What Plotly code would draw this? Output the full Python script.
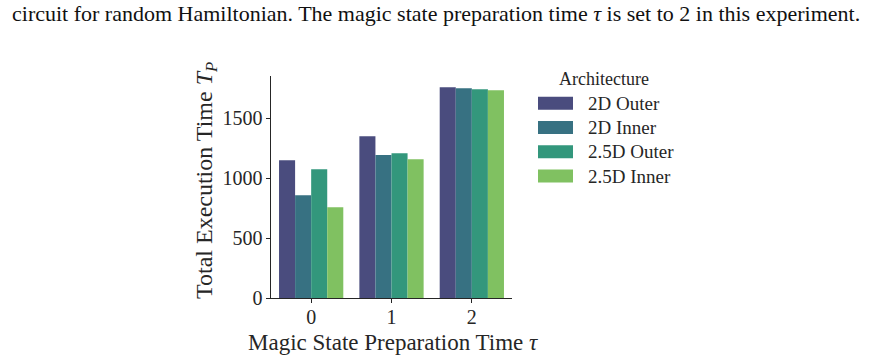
import plotly.graph_objects as go

# ---- data ----
tau_values = [0, 1, 2]
architectures = ["2D Outer", "2D Inner", "2.5D Outer", "2.5D Inner"]
t_2d_outer = [1150, 1350, 1758]
t_2d_inner = [858, 1192, 1750]
t_25d_outer = [1075, 1208, 1742]
t_25d_inner = [758, 1158, 1733]
series = [t_2d_outer, t_2d_inner, t_25d_outer, t_25d_inner]
colors = ["#4a4c7e", "#377182", "#33977c", "#80c161"]
y_ticks = [0, 500, 1000, 1500]

W, H = 872, 358
L, R, T, B = 271, 512, 76, 298  # plot area pixel edges
FONT = "Liberation Serif"
INK = "#262626"

fig = go.Figure()
for name, vals, col in zip(architectures, series, colors):
    fig.add_trace(go.Bar(x=tau_values, y=vals, name=name, marker_color=col,
                         marker_line_width=0, showlegend=False))

def px_x(p):
    return (p - L) / (R - L)

def px_y(p):
    return (B - p) / (B - T)

shapes = []
annotations = []
# legend (manual, wide patches like matplotlib)
annotations.append(dict(text="Architecture", x=px_x(604), y=px_y(79), xref="paper", yref="paper",
                        showarrow=False, xanchor="center", yanchor="middle",
                        font=dict(family=FONT, size=18, color=INK)))
row_y = [103.3, 127.5, 151.7, 176]
for name, col, ry in zip(architectures, colors, row_y):
    shapes.append(dict(type="rect", xref="paper", yref="paper",
                       x0=px_x(538), x1=px_x(573), y0=px_y(ry - 6.5), y1=px_y(ry + 6.5),
                       fillcolor=col, line_width=0))
    annotations.append(dict(text=name, x=px_x(586), y=px_y(ry), xref="paper", yref="paper",
                            showarrow=False, xanchor="left", yanchor="middle",
                            font=dict(family=FONT, size=19, color=INK)))
# caption text at top
annotations.append(dict(text="circuit for random Hamiltonian. The magic state preparation time <i>τ</i> is set to 2 in this experiment.",
                        x=px_x(436), y=px_y(13), xref="paper", yref="paper", showarrow=False,
                        xanchor="center", yanchor="middle",
                        font=dict(family=FONT, size=22, color="#111111")))
# y-axis title
annotations.append(dict(text="Total Execution Time <i>T</i><sub><i>P</i></sub>",
                        x=px_x(206), y=px_y(181), xref="paper", yref="paper", showarrow=False,
                        xanchor="center", yanchor="middle", textangle=-90,
                        font=dict(family=FONT, size=24, color=INK)))
# x-axis title
annotations.append(dict(text="Magic State Preparation Time <i>τ</i>",
                        x=px_x(393), y=px_y(342), xref="paper", yref="paper", showarrow=False,
                        xanchor="center", yanchor="middle", borderpad=0,
                        font=dict(family=FONT, size=23, color=INK)))

fig.update_layout(
    width=W, height=H, autosize=False,
    margin=dict(l=L, r=W - R, t=T, b=H - B, pad=0),
    plot_bgcolor="white", paper_bgcolor="white",
    barmode="group", bargap=0.2, bargroupgap=0,
    font=dict(family=FONT, color=INK),
    shapes=shapes, annotations=annotations,
)
fig.update_xaxes(range=[-0.5, 2.5], tickvals=tau_values, ticktext=[str(v) for v in tau_values],
                 automargin=False, ticklabelstandoff=-3,
                 showgrid=False, zeroline=False, showline=True, linecolor=INK, linewidth=1.25,
                 ticks="outside", ticklen=3.5, tickwidth=1.25, tickcolor=INK,
                 tickfont=dict(family=FONT, size=20, color=INK))
fig.update_yaxes(range=[0, 1852], tickvals=y_ticks, automargin=False,
                 showgrid=False, zeroline=False, showline=True, linecolor=INK, linewidth=1.25,
                 ticks="outside", ticklen=3.5, tickwidth=1.25, tickcolor=INK,
                 tickfont=dict(family=FONT, size=20, color=INK))

fig.write_html("out.html")
